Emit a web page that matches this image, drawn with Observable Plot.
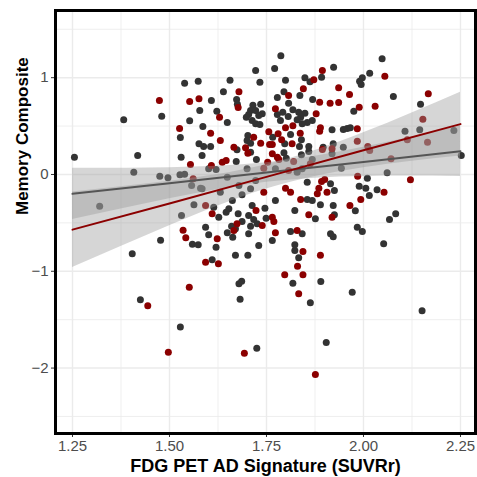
<!DOCTYPE html>
<html>
<head>
<meta charset="utf-8">
<script src="https://cdn.jsdelivr.net/npm/d3@7"></script>
<script src="https://cdn.jsdelivr.net/npm/@observablehq/plot@0.6"></script>
<style>
  html, body { margin: 0; padding: 0; background: #ffffff; overflow: hidden; }
</style>
</head>
<body>
<div id="chart"></div>
<script>
// ---- data ----
const xTicks = [1.25, 1.5, 1.75, 2.0, 2.25];
const xMinor = [1.375, 1.625, 1.875, 2.125];
const yTicks = [-2, -1, 0, 1];
const yMinor = [-2.5, -1.5, -0.5, 0.5, 1.5];

const xTitle = "FDG PET AD Signature (SUVRr)";
const yTitle = "Memory Composite";

const grayPts = [
[1.539,0.943],[1.574,0.964],[1.578,0.661],[1.382,0.565],[1.480,0.602],[1.552,0.555],[1.528,0.382],[1.576,0.317],
[1.787,1.226],[1.771,1.095],[1.722,1.074],[1.923,1.108],[1.656,0.974],[1.733,0.954],[1.799,0.974],[1.849,0.999],[1.862,0.958],[1.892,1.005],[1.639,0.854],[1.795,0.854],[1.836,0.816],[1.778,0.795],[1.869,0.775],[1.608,0.764],[1.673,0.775],[1.675,0.726],[1.807,0.737],[1.622,0.654],[1.715,0.716],[1.735,0.726],[1.709,0.661],[1.722,0.661],[1.739,0.627],[1.730,0.610],[1.704,0.620],[1.698,0.592],[1.778,0.620],[1.792,0.644],[1.818,0.668],[1.833,0.644],[1.849,0.633],[1.838,0.592],[1.829,0.565],[1.806,0.599],[1.786,0.558],[1.649,0.537],[1.713,0.558],[1.722,0.524],[1.733,0.517],[1.868,0.558],[1.855,0.537],[1.842,0.524],[1.586,0.496],[1.812,0.413],[1.919,0.462],[1.766,0.385],[1.702,0.403],[1.700,0.351],[1.709,0.323],[1.840,0.358],[1.835,0.289],[1.797,0.317],[1.606,0.289],[1.859,0.289],[1.896,0.282],
[2.048,1.195],[2.016,1.046],[1.997,0.999],[1.990,0.964],[1.994,0.930],[2.077,0.806],[2.147,0.726],[1.975,0.654],[1.948,0.465],[1.958,0.475],[1.966,0.482],[1.948,0.282],[1.922,0.317],[2.107,0.447],[2.145,0.462],[2.233,0.455],
[1.255,0.179],[1.418,0.196],[1.530,0.179],[1.408,0.024],[1.475,-0.018],[1.496,-0.034],[1.527,-0.003],[1.539,0.003],[1.557,-0.114],[1.320,-0.327],[1.563,-0.313],[1.531,-0.424],[1.559,-0.720],[1.477,-0.679],[1.404,-0.819],[1.580,-0.142],
[1.425,-1.294],[1.528,-1.577],
[1.610,-0.881],[1.670,-0.834],[1.702,-0.834],[1.823,-0.785],[1.833,-0.861],[1.818,-1.123],[1.890,-1.105],[1.679,-1.129],[1.686,-1.102],[1.682,-1.288],[1.863,-1.325],[1.904,-1.736],[1.725,-1.794],
[1.971,-1.216],[2.151,-1.408],
[1.943,0.065],[2.061,0.018],[2.252,0.196],[2.010,-0.038],[1.925,-0.165],[1.989,-0.121],[2.006,-0.142],[2.035,-0.158],[2.015,-0.217],[1.979,-0.375],[1.922,-0.320],[1.925,-0.416],[2.083,-0.406],[2.067,-0.465],[1.984,-0.544],[1.997,-0.589],[1.922,-0.644],[2.052,-0.716],
[1.709,0.230],[1.584,0.196],[1.795,0.224],[1.859,0.238],[1.919,0.214],[1.672,0.134],[1.724,0.155],[1.801,0.168],[1.840,0.204],[1.868,0.155],[1.601,0.059],[1.620,0.052],[1.700,0.059],[1.773,0.059],[1.829,0.024],[1.842,0.059],[1.649,-0.028],[1.584,-0.148],[1.631,-0.183],[1.679,-0.114],[1.709,-0.148],[1.722,-0.062],[1.855,-0.080],[1.915,-0.096],[1.855,-0.258],[1.868,-0.269],[1.889,-0.313],[1.773,-0.269],[1.687,-0.210],[1.662,-0.269],[1.614,-0.338],[1.653,-0.354],[1.646,-0.389],[1.627,-0.441],[1.677,-0.406],[1.713,-0.320],[1.746,-0.348],[1.704,-0.424],[1.717,-0.465],[1.726,-0.509],[1.709,-0.534],[1.749,-0.451],[1.687,-0.486],[1.660,-0.534],[1.593,-0.544],[1.601,-0.623],[1.649,-0.602],[1.670,-0.561],[1.663,-0.648],[1.704,-0.613],[1.765,-0.682],[1.812,-0.589],[1.842,-0.613],[1.823,-0.372],[1.876,-0.458],[1.915,-0.613],[1.730,-0.733],[1.620,-0.751],[1.823,-0.726],[1.574,-0.726],
[1.588,0.289],[1.674,0.255]
];

const redPts = [
[1.474,0.764],[1.552,0.754],[1.576,0.782],[1.526,0.475],
[1.894,1.074],[1.872,0.978],[1.679,0.854],[1.845,0.885],[1.807,0.816],[1.677,0.692],[1.887,0.747],[1.914,0.737],[1.773,0.679],[1.878,0.627],[1.629,0.592],[1.799,0.482],[1.818,0.503],[1.889,0.482],[1.887,0.447],[1.606,0.427],[1.756,0.441],[1.780,0.420],[1.717,0.385],[1.631,0.351],[1.789,0.358],[1.837,0.427],[1.735,0.323],[1.758,0.310],[1.765,0.310],[1.816,0.317],[1.666,0.282],[1.696,0.276],[1.919,0.265],
[2.055,1.016],[1.936,0.896],[1.964,0.826],[1.936,0.744],[2.167,0.834],[1.989,0.695],[2.030,0.706],[1.984,0.472],[1.984,0.344],[2.011,0.289],[2.153,0.571],[2.113,0.358],[2.165,0.334],
[1.554,0.103],[1.561,-0.044],[1.535,-0.575],[1.542,-0.654],
[1.551,-1.164],[1.444,-1.356],[1.497,-1.836],
[1.593,-0.906],[1.626,-0.923],[1.844,-0.795],[1.889,-0.834],[1.830,-0.947],[1.797,-1.036],[1.844,-1.036],[1.833,-1.232],[1.693,-1.846],[1.876,-2.066],
[2.016,0.248],[2.071,0.162],[1.985,-0.018],[2.121,-0.055],[2.053,-0.183],[1.993,-0.258],[1.965,-0.320],
[1.765,0.214],[1.894,0.258],[1.608,0.093],[1.636,0.127],[1.646,0.145],[1.753,0.127],[1.778,0.179],[1.782,0.155],[1.820,0.134],[1.743,0.065],[1.807,0.041],[1.863,0.111],[1.743,-0.183],[1.799,-0.142],[1.812,-0.183],[1.892,-0.072],[1.900,-0.052],[1.885,-0.142],[1.881,-0.199],[1.906,-0.183],[1.838,-0.258],[1.593,-0.320],[1.610,-0.406],[1.723,-0.372],[1.739,-0.527],[1.765,-0.441],[1.769,-0.486],[1.674,-0.509],[1.623,-0.664],[1.666,-0.579],[1.773,-0.602],[1.829,-0.579],[1.859,-0.416],[1.919,-0.441],
[1.702,0.220]
];

// fitted lines and 95% bands
const fitX   = [1.25, 1.5, 1.75, 2.0, 2.25];
const grayFit = [-0.20, -0.09, 0.02, 0.13, 0.24];
const grayLo  = [-0.465, -0.25, -0.08, -0.02, -0.02];
const grayHi  = [0.065, 0.07, 0.12, 0.28, 0.50];
const redFit  = [-0.57, -0.30, -0.025, 0.25, 0.52];
const redLo   = [-0.96, -0.53, -0.15, 0.07, 0.19];
const redHi   = [-0.18, -0.07, 0.10, 0.43, 0.85];

// ---- chart ----
const font = "'Liberation Sans', Arial, Helvetica, sans-serif";
const idx = fitX.map((_, i) => i);

const chart = Plot.plot({
  width: 477,
  height: 477,
  marginLeft: 55,
  marginRight: 2,
  marginTop: 10,
  marginBottom: 44,
  style: { fontFamily: font, background: "#ffffff", overflow: "visible" },
  x: { domain: [1.2062, 2.2887], label: null },
  y: { domain: [-2.676, 1.694], label: null },
  marks: [
    Plot.gridX(xMinor, { stroke: "#ebebeb", strokeOpacity: 1, strokeWidth: 0.8 }),
    Plot.gridY(yMinor, { stroke: "#ebebeb", strokeOpacity: 1, strokeWidth: 0.8 }),
    Plot.gridX(xTicks, { stroke: "#ebebeb", strokeOpacity: 1, strokeWidth: 1.4 }),
    Plot.gridY(yTicks, { stroke: "#ebebeb", strokeOpacity: 1, strokeWidth: 1.4 }),
    Plot.dot(grayPts, { x: d => d[0], y: d => d[1], r: 3.5, fill: "#333333", stroke: null }),
    Plot.dot(redPts, { x: d => d[0], y: d => d[1], r: 3.5, fill: "#8b0000", stroke: null }),
    Plot.areaY(idx, { x: i => fitX[i], y1: i => grayLo[i], y2: i => grayHi[i], fill: "#999999", fillOpacity: 0.4, curve: "natural" }),
    Plot.areaY(idx, { x: i => fitX[i], y1: i => redLo[i], y2: i => redHi[i], fill: "#999999", fillOpacity: 0.4, curve: "natural" }),
    Plot.line(idx, { x: i => fitX[i], y: i => grayFit[i], stroke: "#555555", strokeWidth: 2 }),
    Plot.line(idx, { x: i => fitX[i], y: i => redFit[i], stroke: "#8b0000", strokeWidth: 2 }),
    Plot.axisX(xTicks, { tickSize: 4, tickPadding: 3, fontSize: 15, fill: "#4d4d4d", stroke: "#333333", tickFormat: d3.format(".2f"), label: null }),
    Plot.axisY(yTicks, { tickSize: 4, tickPadding: 3, fontSize: 15, fill: "#4d4d4d", stroke: "#333333", tickFormat: d => d3.format("d")(d).replace("-", "\u2212"), label: null }),
    Plot.frame({ stroke: "#000000", strokeWidth: 3 }),
    Plot.text([xTitle], { frameAnchor: "bottom", dy: 33, lineAnchor: "middle", fontWeight: "bold", fontSize: 18, fill: "#000000" }),
    Plot.text([yTitle], { frameAnchor: "left", dx: -33, dy: -7, rotate: -90, lineAnchor: "middle", fontWeight: "bold", fontSize: 17, fill: "#000000" })
  ]
});
document.getElementById("chart").appendChild(chart);
</script>
</body>
</html>
